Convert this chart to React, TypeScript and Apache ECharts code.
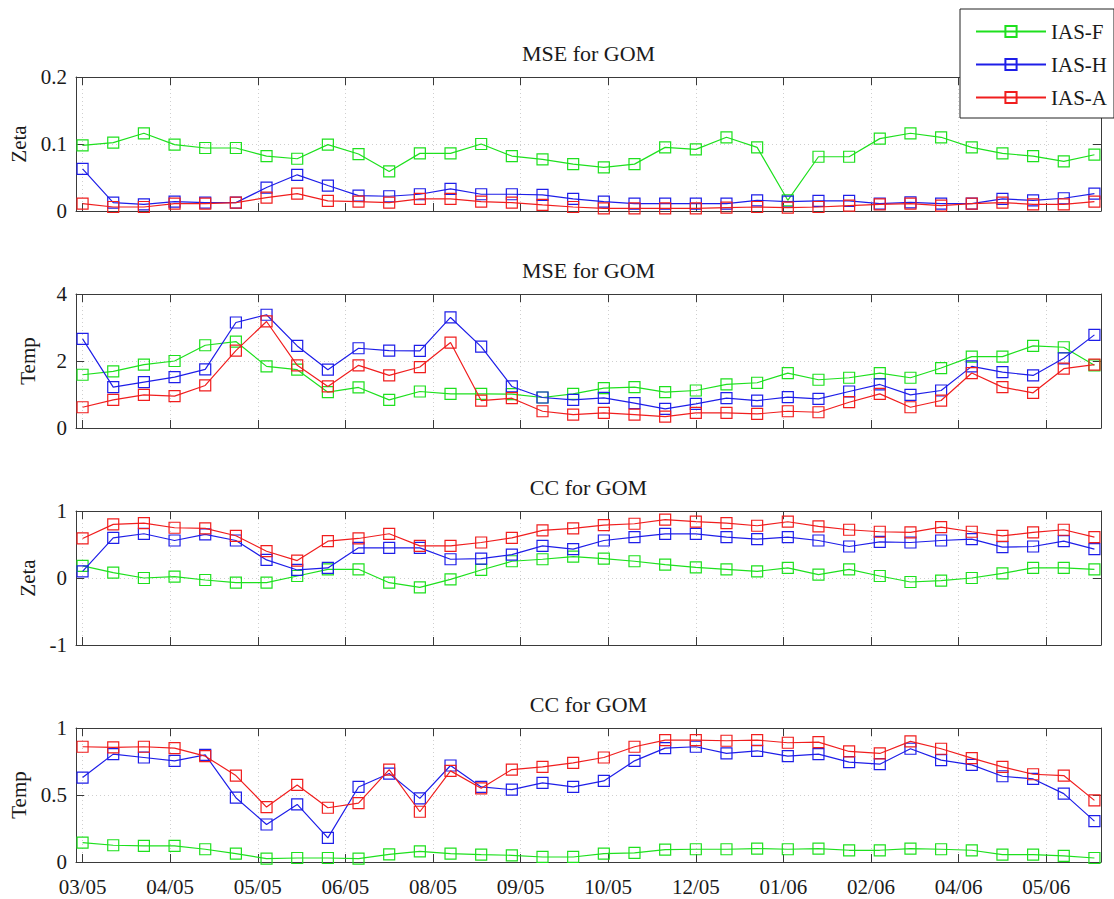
import React, { useEffect, useRef } from "react";
import * as echarts from "echarts";

// sample times, in days after the first sample (two-week steps)
const sampleDays = [0, 14, 28, 42, 56, 70, 84, 98, 112, 126, 140, 154, 168, 182, 196, 210, 224, 238, 252, 266, 280, 294, 308, 322, 336, 350, 364, 378, 392, 406, 420, 434, 448, 462];
const tickDays = [0, 40, 80, 120, 160, 200, 240, 280, 320, 360, 400, 440];
const tickLabels = ["03/05", "04/05", "05/05", "06/05", "08/05", "09/05", "10/05", "12/05", "01/06", "02/06", "04/06", "05/06"];

const seriesNames = ["IAS-F", "IAS-H", "IAS-A"];
const seriesColors = ["#1ee01e", "#1e1ee8", "#f01e1e"];

const panelTitles = ["MSE for GOM", "MSE for GOM", "CC for GOM", "CC for GOM"];
const panelYNames = ["Zeta", "Temp", "Zeta", "Temp"];
const panelYMin = [0, 0, -1, 0];
const panelYMax = [0.2, 4, 1, 1];
const panelYStep = [0.1, 2, 1, 0.5];

const mseZetaF = [0.098, 0.102, 0.116, 0.099, 0.094, 0.094, 0.082, 0.078, 0.099, 0.085, 0.059, 0.086, 0.086, 0.1, 0.082, 0.077, 0.07, 0.065, 0.07, 0.095, 0.092, 0.11, 0.095, 0.016, 0.081, 0.081, 0.108, 0.116, 0.11, 0.095, 0.086, 0.082, 0.074, 0.084];
const mseZetaH = [0.063, 0.0125, 0.01, 0.014, 0.0125, 0.0125, 0.035, 0.054, 0.038, 0.023, 0.022, 0.025, 0.033, 0.025, 0.025, 0.024, 0.018, 0.014, 0.011, 0.011, 0.011, 0.011, 0.016, 0.014, 0.015, 0.015, 0.011, 0.013, 0.011, 0.011, 0.018, 0.016, 0.019, 0.026];
const mseZetaA = [0.011, 0.006, 0.006, 0.011, 0.011, 0.0125, 0.02, 0.026, 0.015, 0.014, 0.0125, 0.018, 0.018, 0.014, 0.0125, 0.009, 0.006, 0.004, 0.004, 0.004, 0.004, 0.005, 0.006, 0.005, 0.006, 0.008, 0.01, 0.011, 0.008, 0.011, 0.0125, 0.01, 0.01, 0.014];

const mseTempF = [1.59, 1.69, 1.89, 2.0, 2.47, 2.58, 1.84, 1.74, 1.07, 1.21, 0.84, 1.09, 1.02, 1.02, 1.01, 0.91, 1.02, 1.19, 1.22, 1.07, 1.12, 1.3, 1.35, 1.64, 1.44, 1.5, 1.64, 1.5, 1.79, 2.13, 2.13, 2.45, 2.41, 1.87];
const mseTempH = [2.66, 1.22, 1.37, 1.52, 1.75, 3.15, 3.38, 2.45, 1.74, 2.38, 2.31, 2.3, 3.3, 2.43, 1.24, 0.91, 0.84, 0.9, 0.74, 0.57, 0.72, 0.89, 0.82, 0.92, 0.87, 1.09, 1.3, 0.99, 1.12, 1.84, 1.67, 1.57, 2.08, 2.78];
const mseTempA = [0.62, 0.84, 0.99, 0.95, 1.27, 2.31, 3.18, 1.87, 1.24, 1.87, 1.57, 1.82, 2.55, 0.82, 0.89, 0.5, 0.4, 0.45, 0.4, 0.34, 0.45, 0.45, 0.42, 0.5, 0.47, 0.77, 1.02, 0.62, 0.82, 1.64, 1.22, 1.05, 1.77, 1.89];

const ccZetaF = [0.18, 0.08, 0.0, 0.02, -0.03, -0.07, -0.07, 0.03, 0.13, 0.13, -0.07, -0.14, -0.02, 0.12, 0.25, 0.28, 0.32, 0.29, 0.25, 0.2, 0.16, 0.13, 0.1, 0.15, 0.05, 0.13, 0.03, -0.06, -0.04, 0.0, 0.07, 0.15, 0.15, 0.13];
const ccZetaH = [0.1, 0.6, 0.66, 0.56, 0.65, 0.56, 0.27, 0.12, 0.15, 0.45, 0.45, 0.45, 0.28, 0.29, 0.35, 0.48, 0.43, 0.56, 0.61, 0.66, 0.66, 0.61, 0.58, 0.61, 0.56, 0.47, 0.54, 0.53, 0.56, 0.58, 0.46, 0.47, 0.55, 0.43];
const ccZetaA = [0.59, 0.8, 0.82, 0.75, 0.74, 0.63, 0.4, 0.26, 0.55, 0.59, 0.66, 0.48, 0.48, 0.53, 0.6, 0.71, 0.74, 0.79, 0.81, 0.87, 0.84, 0.82, 0.78, 0.84, 0.77, 0.72, 0.69, 0.68, 0.76, 0.69, 0.63, 0.68, 0.72, 0.61];

const ccTempF = [0.145, 0.125, 0.12, 0.12, 0.095, 0.0625, 0.025, 0.03, 0.03, 0.025, 0.0575, 0.08, 0.0625, 0.055, 0.05, 0.0375, 0.0375, 0.0625, 0.0675, 0.0925, 0.095, 0.095, 0.1, 0.095, 0.1, 0.0875, 0.0875, 0.1, 0.095, 0.0875, 0.055, 0.055, 0.045, 0.03];
const ccTempH = [0.63, 0.805, 0.78, 0.755, 0.8, 0.48, 0.28, 0.43, 0.18, 0.56, 0.66, 0.475, 0.72, 0.56, 0.54, 0.59, 0.56, 0.605, 0.755, 0.85, 0.86, 0.81, 0.83, 0.79, 0.805, 0.745, 0.73, 0.845, 0.76, 0.725, 0.64, 0.62, 0.51, 0.305];
const ccTempA = [0.86, 0.855, 0.86, 0.85, 0.79, 0.645, 0.41, 0.575, 0.405, 0.44, 0.69, 0.375, 0.68, 0.55, 0.69, 0.71, 0.74, 0.78, 0.86, 0.91, 0.91, 0.905, 0.91, 0.89, 0.895, 0.825, 0.81, 0.9, 0.845, 0.775, 0.71, 0.655, 0.645, 0.46];

const panelData = [
  [mseZetaF, mseZetaH, mseZetaA],
  [mseTempF, mseTempH, mseTempA],
  [ccZetaF, ccZetaH, ccZetaA],
  [ccTempF, ccTempH, ccTempA],
];

const FONT = "'Liberation Serif', 'DejaVu Serif', serif";
const TEXT = "#1a1a1a";
const FRAME = "#3a3a3a";
const GRIDLINE = "#cfcfcf";

export default function App() {
  const ref = useRef<HTMLDivElement>(null);

  useEffect(() => {
    if (!ref.current) return;
    const chart = echarts.init(ref.current, undefined, { renderer: "svg" });

    const gridLeft = 76;
    const gridWidth = 1025;
    const gridTop0 = 77;
    const gridStep = 217;
    const gridHeight = 134;

    const grids: any[] = [];
    const xAxes: any[] = [];
    const yAxes: any[] = [];
    const series: any[] = [];
    const graphics: any[] = [];

    for (let p = 0; p < 4; p++) {
      const top = gridTop0 + gridStep * p;
      grids.push({ left: gridLeft, top, width: gridWidth, height: gridHeight, show: false });

      const xBase = {
        type: "value",
        gridIndex: p,
        min: -3,
        max: 465,
        axisLine: { show: true, onZero: false, lineStyle: { color: FRAME, width: 1 } },
        axisTick: { show: true, inside: true, length: 8, customValues: tickDays, lineStyle: { color: FRAME } },
      };
      xAxes.push({
        ...xBase,
        position: "bottom",
        axisLabel: {
          show: p === 3,
          customValues: tickDays,
          formatter: (v: number) => {
            const k = tickDays.indexOf(Math.round(v));
            return k >= 0 ? tickLabels[k] : "";
          },
          fontFamily: FONT,
          fontSize: 21,
          color: TEXT,
          margin: 14,
        },
        splitLine: { show: true, customValues: tickDays, lineStyle: { color: GRIDLINE, type: [1, 3], width: 1 } },
      });
      xAxes.push({
        ...xBase,
        position: "top",
        axisLabel: { show: false },
        splitLine: { show: false },
      });

      const yBase = {
        type: "value",
        gridIndex: p,
        min: panelYMin[p],
        max: panelYMax[p],
        interval: panelYStep[p],
        axisLine: { show: true, onZero: false, lineStyle: { color: FRAME, width: 1 } },
        axisTick: { show: true, inside: true, length: 8, lineStyle: { color: FRAME } },
      };
      yAxes.push({
        ...yBase,
        position: "left",
        name: panelYNames[p],
        nameLocation: "middle",
        nameGap: 38,
        nameTextStyle: { fontFamily: FONT, fontSize: 21, color: TEXT },
        axisLabel: { fontFamily: FONT, fontSize: 21, color: TEXT, margin: 9 },
        splitLine: { show: true, lineStyle: { color: GRIDLINE, type: [1, 3], width: 1 } },
      });
      yAxes.push({
        ...yBase,
        position: "right",
        axisLabel: { show: false },
        splitLine: { show: false },
      });

      graphics.push({
        type: "text",
        x: gridLeft + gridWidth / 2,
        y: top - 24,
        style: {
          text: panelTitles[p],
          fill: TEXT,
          font: `22px ${FONT}`,
          align: "center",
          verticalAlign: "middle",
        },
      });

      for (let s = 0; s < 3; s++) {
        const vals = panelData[p][s];
        series.push({
          type: "line",
          name: seriesNames[s],
          xAxisIndex: 2 * p,
          yAxisIndex: 2 * p,
          data: sampleDays.map((d, i) => [d, vals[i]]),
          color: seriesColors[s],
          symbol: "rect",
          symbolSize: 11,
          showSymbol: true,
          itemStyle: { color: "transparent", borderColor: seriesColors[s], borderWidth: 1.2 },
          lineStyle: { color: seriesColors[s], width: 1.2 },
          emphasis: { disabled: true },
          z: 2 + s,
        });
      }
    }

    chart.setOption({
      animation: false,
      backgroundColor: "#ffffff",
      grid: grids,
      xAxis: xAxes,
      yAxis: yAxes,
      series,
      graphic: graphics,
      legend: {
        data: seriesNames,
        orient: "vertical",
        left: 960,
        top: 9,
        padding: [12, 7, 10, 15],
        itemWidth: 70,
        itemHeight: 14,
        itemGap: 12,
        backgroundColor: "#ffffff",
        borderColor: "#222222",
        borderWidth: 1,
        textStyle: { fontFamily: FONT, fontSize: 21, color: TEXT },
        z: 10,
      },
    });

    return () => chart.dispose();
  }, []);

  return (
    <div
      ref={ref}
      style={{ position: "absolute", left: 0, top: 0, width: 1114, height: 899, background: "#fff" }}
    />
  );
}
